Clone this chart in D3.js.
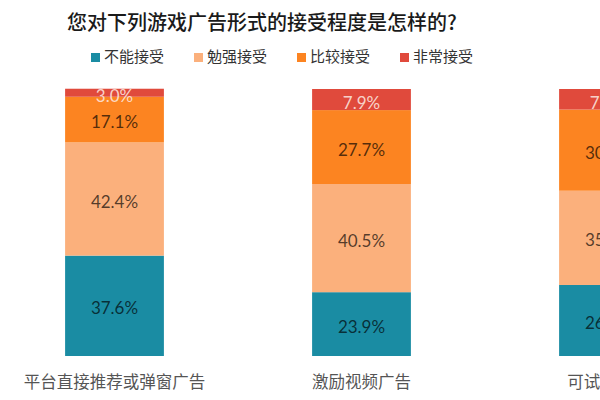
<!DOCTYPE html>
<html>
<head>
<meta charset="utf-8">
<script src="https://cdn.jsdelivr.net/npm/d3@7.9.0/dist/d3.min.js"></script>
<style>
  body { margin: 0; background: #fff; }
  svg { display: block; font-family: "Noto Sans CJK SC", "Noto Sans", sans-serif; }
</style>
</head>
<body>
<svg width="600" height="400"></svg>
<script>
const categories = ['平台直接推荐或弹窗广告', '激励视频广告', '可试玩广告'];
const levels = ['不能接受', '勉强接受', '比较接受', '非常接受'];
const notAccept = [37.6, 23.9, 26.6];
const reluctant = [42.4, 40.5, 35.3];
const fairly = [17.1, 27.7, 30.4];
const very = [3.0, 7.9, 7.7];
const colors = ['#1a8ca3', '#fbb07c', '#fc8421', '#e04a3c'];

const rows = categories.map((c, i) => ({
    cat: c,
    '不能接受': notAccept[i],
    '勉强接受': reluctant[i],
    '比较接受': fairly[i],
    '非常接受': very[i]
}));

const svg = d3.select('svg');

let x = d3.scaleBand()
    .domain(categories)
    .range([-9, 732])
    .paddingInner(0.6)
    .paddingOuter(0.3);

let y = d3.scaleLinear()
    .domain([0, 100])
    .range([356, 89]);

let color = d3.scaleOrdinal().domain(levels).range(colors);

let series = d3.stack().keys(levels)(rows);

// title
svg.append('text')
    .attr('x', 262)
    .attr('y', 30)
    .attr('text-anchor', 'middle')
    .attr('font-size', 20)
    .attr('font-weight', 500)
    .attr('fill', '#1a1a1a')
    .text('您对下列游戏广告形式的接受程度是怎样的?');

// legend
let legend = svg.append('g');
levels.forEach((lv, i) => {
    let g = legend.append('g').attr('transform', `translate(${91 + i * 103},0)`);
    g.append('rect')
        .attr('x', 0).attr('y', 53)
        .attr('width', 9).attr('height', 9)
        .attr('fill', color(lv));
    g.append('text')
        .attr('x', 13).attr('y', 62)
        .attr('font-size', 15)
        .attr('fill', '#333')
        .text(lv);
});

// bars
series.forEach((s) => {
    let layer = svg.append('g');
    layer.selectAll('rect')
        .data(s)
        .join('rect')
        .attr('x', (d) => x(d.data.cat))
        .attr('y', (d) => y(d[1]))
        .attr('width', x.bandwidth())
        .attr('height', (d) => y(d[0]) - y(d[1]))
        .attr('fill', color(s.key));

    layer.selectAll('text')
        .data(s)
        .join('text')
        .attr('x', (d) => x(d.data.cat) + x.bandwidth() / 2)
        .attr('y', (d) => (y(d[0]) + y(d[1])) / 2 + (s.key === '非常接受' ? 3 : 2))
        .attr('text-anchor', 'middle')
        .attr('dominant-baseline', 'central')
        .attr('font-family', 'Lato, "Noto Sans", sans-serif')
        .attr('font-size', 17)
        .attr('fill', s.key === '非常接受' ? '#fbe3dc' : '#000')
        .attr('fill-opacity', s.key === '非常接受' ? 0.9 : 0.68)
        .text((d) => `${(d[1] - d[0]).toFixed(1)}%`);
});

// category labels
svg.append('g')
    .selectAll('text')
    .data(categories)
    .join('text')
    .attr('x', (d) => x(d) + x.bandwidth() / 2)
    .attr('y', 388)
    .attr('text-anchor', 'middle')
    .attr('font-size', 16.5)
    .attr('fill', '#555')
    .text((d) => d);
</script>
</body>
</html>
